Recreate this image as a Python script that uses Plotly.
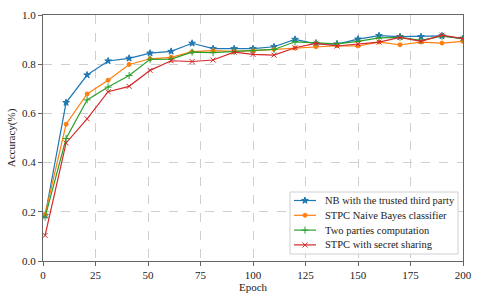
import plotly.graph_objects as go

epochs = [1, 11, 21, 31, 41, 51, 61, 71, 81, 91, 100, 110, 120, 130, 140, 150, 160, 170, 180, 190, 200]

nb_trusted = [0.185, 0.644, 0.756, 0.813, 0.824, 0.845, 0.852, 0.885, 0.863, 0.863, 0.863, 0.871, 0.901, 0.883, 0.882, 0.902, 0.916, 0.912, 0.912, 0.915, 0.904]
stpc_nb = [0.19, 0.556, 0.679, 0.735, 0.799, 0.822, 0.828, 0.851, 0.855, 0.852, 0.855, 0.86, 0.865, 0.871, 0.875, 0.874, 0.89, 0.879, 0.89, 0.886, 0.893]
two_party = [0.178, 0.498, 0.655, 0.707, 0.754, 0.82, 0.821, 0.849, 0.847, 0.852, 0.855, 0.86, 0.891, 0.888, 0.883, 0.893, 0.907, 0.909, 0.897, 0.914, 0.904]
stpc_ss = [0.104, 0.48, 0.578, 0.688, 0.71, 0.775, 0.814, 0.811, 0.817, 0.849, 0.84, 0.837, 0.867, 0.885, 0.874, 0.882, 0.89, 0.909, 0.893, 0.918, 0.904]

series_names = ["NB with the trusted third party", "STPC Naive Bayes classifier",
                "Two parties computation", "STPC with secret sharing"]
series_vals = [nb_trusted, stpc_nb, two_party, stpc_ss]
colors = ["#1f77b4", "#ff7f0e", "#2ca02c", "#d62728"]
symbols = ["star", "circle", "cross-thin", "x-thin"]
sizes = [5, 4, 5, 5]

x_ticks = [0, 25, 50, 75, 100, 125, 150, 175, 200]
y_ticks = [0.0, 0.2, 0.4, 0.6, 0.8, 1.0]

# page layout (pixels)
W, H = 480, 299
ML, MR, MT, MB = 43, 17, 15, 38
font = "Liberation Serif, Times New Roman, serif"

fig = go.Figure()
for name, vals, c, s, sz in zip(series_names, series_vals, colors, symbols, sizes):
    fig.add_trace(go.Scatter(
        x=epochs, y=vals, mode="lines+markers", name=name, showlegend=False,
        line=dict(color=c, width=1.2),
        marker=dict(symbol=s, size=sz, color=c, line=dict(color=c, width=1)),
    ))

# custom compact legend on an overlay axis measured in page pixels
box_l, box_r, box_t, box_b = 290, 458, 192, 254
fig.add_trace(go.Scatter(
    x=[box_l, box_r, box_r, box_l, box_l], y=[box_t, box_t, box_b, box_b, box_t],
    xaxis="x2", yaxis="y2", mode="lines", fill="toself",
    fillcolor="rgba(255,255,255,0.92)", line=dict(color="#d0d0d0", width=1),
    hoverinfo="skip", showlegend=False,
))
row_y0, row_dy = 200.5, 14.8
for i, (name, c, s, sz) in enumerate(zip(series_names, colors, symbols, sizes)):
    yy = row_y0 + i * row_dy
    fig.add_trace(go.Scatter(
        x=[294, 316], y=[yy, yy], xaxis="x2", yaxis="y2", mode="lines",
        line=dict(color=c, width=1.2), hoverinfo="skip", showlegend=False,
    ))
    fig.add_trace(go.Scatter(
        x=[305], y=[yy], xaxis="x2", yaxis="y2", mode="markers",
        marker=dict(symbol=s, size=sz, color=c, line=dict(color=c, width=1)),
        hoverinfo="skip", showlegend=False,
    ))
    fig.add_annotation(x=323, y=yy, xref="x2", yref="y2", text=name, showarrow=False,
                       xanchor="left", yanchor="middle",
                       font=dict(family=font, size=10.5, color="#222"))

fig.update_layout(
    width=W, height=H,
    margin=dict(l=ML, r=MR, t=MT, b=MB, autoexpand=False),
    paper_bgcolor="white", plot_bgcolor="white",
    font=dict(family=font, size=11, color="#222"),
    showlegend=False,
    xaxis2=dict(overlaying="x", range=[ML, W - MR], visible=False, fixedrange=True),
    yaxis2=dict(overlaying="y", range=[H - MB, MT], visible=False, fixedrange=True),
)
fig.update_layout(xaxis=dict(
    range=[0, 200], tickvals=x_ticks, ticktext=[str(v) for v in x_ticks],
    showline=True, linecolor="#666", linewidth=1, mirror=True,
    ticks="outside", ticklen=4, tickcolor="#666", tickfont=dict(size=11),
    showgrid=True, gridcolor="#cfcfcf", griddash="dash", gridwidth=1,
    zeroline=False, automargin=False,
    title=dict(text="Epoch", standoff=2, font=dict(size=11)),
))
fig.update_layout(yaxis=dict(
    range=[0, 1.0], tickvals=y_ticks, ticktext=[f"{v:.1f}" for v in y_ticks],
    showline=True, linecolor="#666", linewidth=1, mirror=True,
    ticks="outside", ticklen=4, tickcolor="#666", tickfont=dict(size=11),
    showgrid=True, gridcolor="#cfcfcf", griddash="dash", gridwidth=1,
    zeroline=False, automargin=False,
    title=dict(text="Accuracy(%)", standoff=4, font=dict(size=11)),
))

fig.write_html("out.html", config={"displayModeBar": False},
               post_script="document.body.style.margin='0';document.body.style.padding='0';")
